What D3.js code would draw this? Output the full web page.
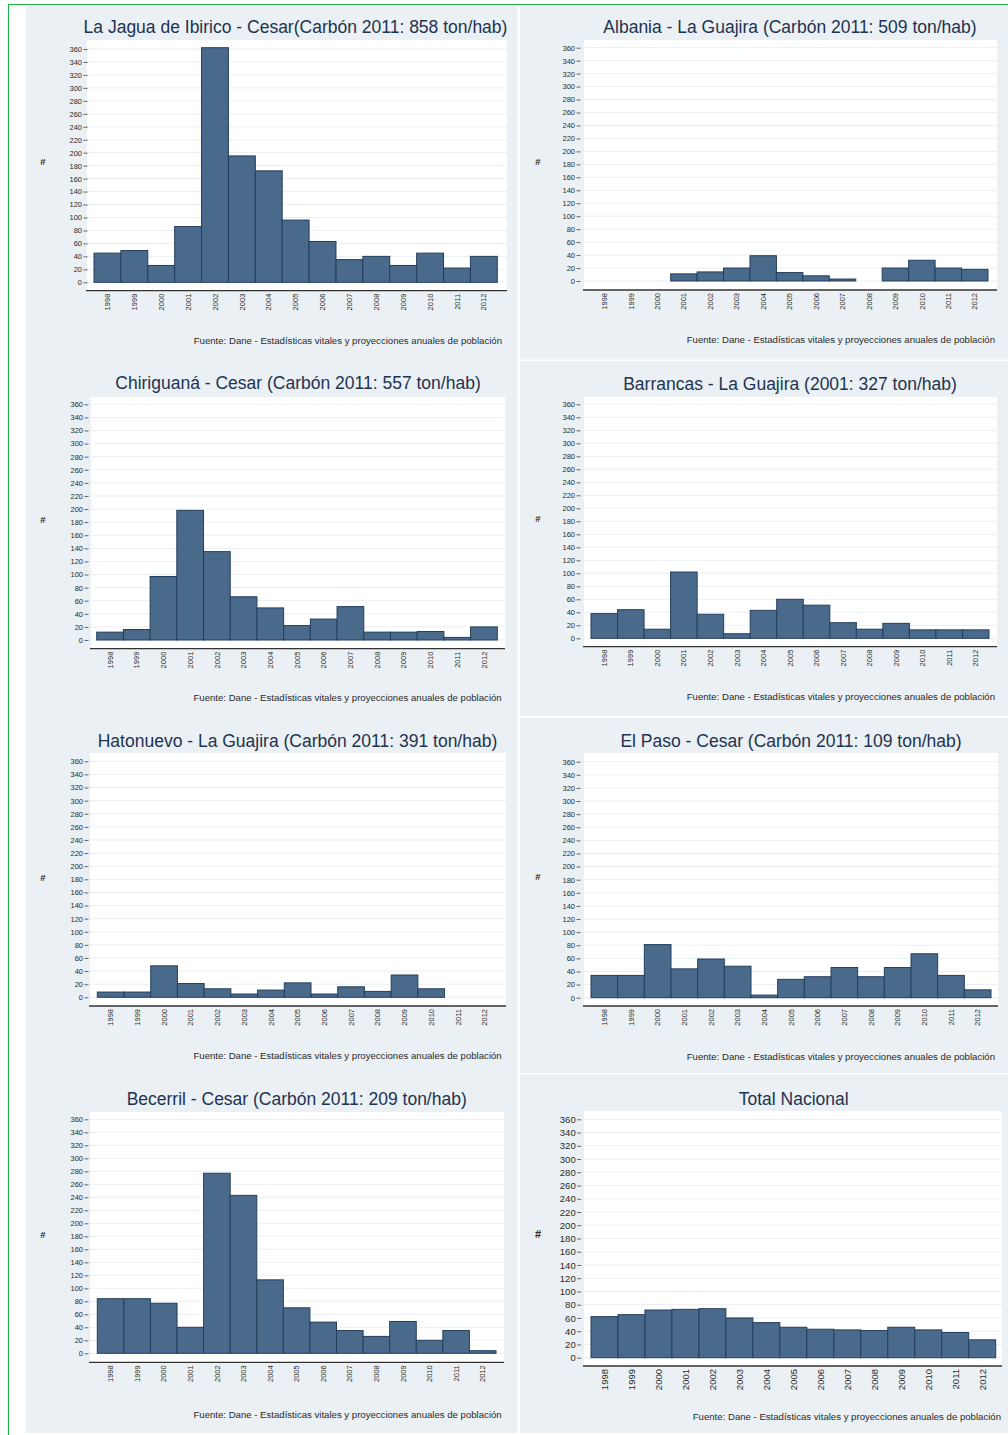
<!DOCTYPE html>
<html>
<head>
<meta charset="utf-8">
<script src="https://cdn.jsdelivr.net/npm/d3@7"></script>
<style>
  body { margin: 0; background: #fff; }
  svg { display: block; font-family: "Liberation Sans", Arial, sans-serif; }
</style>
</head>
<body>
<div id="chart"></div>
<script>
'use strict';

// --- data ---
const years = ["1998", "1999", "2000", "2001", "2002", "2003", "2004", "2005",
               "2006", "2007", "2008", "2009", "2010", "2011", "2012"];
const yTicks = [0, 20, 40, 60, 80, 100, 120, 140, 160, 180, 200, 220, 240, 260, 280, 300, 320, 340, 360];

const laJagua    = [45, 49, 26, 86, 362, 195, 172, 96, 63, 35, 40, 26, 45, 22, 40];
const albania    = [null, null, null, 11, 14, 20, 39, 13, 8, 3, null, 20, 32, 20, 18];
const chiriguana = [12, 16, 97, 198, 135, 66, 49, 22, 32, 51, 12, 12, 13, 4, 20];
const barrancas  = [38, 44, 14, 102, 37, 7, 43, 60, 51, 24, 14, 23, 13, 13, 13];
const hatonuevo  = [8, 8, 48, 21, 13, 5, 11, 22, 5, 16, 9, 34, 13, null, null];
const elPaso     = [34, 34, 81, 44, 59, 48, 4, 28, 32, 46, 32, 46, 67, 34, 12];
const becerril   = [84, 84, 77, 40, 277, 243, 113, 70, 48, 35, 26, 49, 20, 35, 4];
const nacional   = [62, 65, 72, 73, 74, 60, 53, 46, 43, 42, 41, 46, 42, 38, 27];

const titles = [
  "La Jagua de Ibirico - Cesar(Carbón 2011: 858 ton/hab)",
  "Albania - La Guajira (Carbón 2011: 509 ton/hab)",
  "Chiriguaná - Cesar (Carbón 2011: 557 ton/hab)",
  "Barrancas - La Guajira (2001: 327 ton/hab)",
  "Hatonuevo - La Guajira (Carbón 2011: 391 ton/hab)",
  "El Paso - Cesar (Carbón 2011: 109 ton/hab)",
  "Becerril - Cesar (Carbón 2011: 209 ton/hab)",
  "Total Nacional"
];
const series = [laJagua, albania, chiriguana, barrancas, hatonuevo, elPaso, becerril, nacional];
const source = "Fuente: Dane - Estadísticas vitales y proyecciones anuales de población";
const yLabel = "#";

// --- layout of each panel (pixels) ---
const layout = [
  {pl: 87,  pt: 40,   pr: 507,  ax: 290.7,  y0: 282.3,  y1: 49,     bl: 94,    br: 497.3, lr: 82,    tx: 295.5, ty: 33,   fx: 502,   fy: 343.5,  hx: 43,  hy: 165},
  {pl: 584, pt: 40,   pr: 997,  ax: 290,    y0: 281,    y1: 47.7,   bl: 591.3, br: 988,   lr: 575,   tx: 790,   ty: 33,   fx: 995,   fy: 343,    hx: 538, hy: 165},
  {pl: 91,  pt: 397,  pr: 505,  ax: 648.7,  y0: 640,    y1: 404.3,  bl: 96.7,  br: 497.3, lr: 83,    tx: 298,   ty: 389,  fx: 501.7, fy: 700.5,  hx: 43,  hy: 523},
  {pl: 584, pt: 396.7,pr: 997,  ax: 646.7,  y0: 638.3,  y1: 404.3,  bl: 591,   br: 989,   lr: 575,   tx: 790,   ty: 390,  fx: 995,   fy: 700,    hx: 538, hy: 522},
  {pl: 90,  pt: 753,  pr: 506,  ax: 1006,   y0: 997.3,  y1: 761.3,  bl: 97.3,  br: 498,   lr: 83,    tx: 297.5, ty: 747,  fx: 501.7, fy: 1059,   hx: 43,  hy: 881},
  {pl: 584, pt: 753,  pr: 998,  ax: 1006,   y0: 997.7,  y1: 761.7,  bl: 591,   br: 991,   lr: 575,   tx: 791,   ty: 747,  fx: 995,   fy: 1060,   hx: 538, hy: 880},
  {pl: 90,  pt: 1112, pr: 504,  ax: 1362.3, y0: 1353.3, y1: 1119.3, bl: 97.3,  br: 496,   lr: 83,    tx: 296.7, ty: 1105, fx: 501.7, fy: 1417.7, hx: 43,  hy: 1238},
  {pl: 584, pt: 1111, pr: 1002, ax: 1366,   y0: 1357.7, y1: 1119.3, bl: 591,   br: 995.7, lr: 575.7, tx: 793.7, ty: 1105, fx: 1001,  fy: 1420,   hx: 538, hy: 1238, big: true}
];

const color = {bg: "#eaf0f3", bar: "#4a6a8c", edge: "#243e5c", grid: "#e9eff2", title: "#1e3352", text: "#2b2b2b", frame: "#22b14c"};

const svg = d3.select("#chart").append("svg")
    .attr("width", 1008)
    .attr("height", 1435);

// outer green frame
svg.append("line").attr("x1", 8).attr("x2", 1008).attr("y1", 4.5).attr("y2", 4.5)
    .attr("stroke", color.frame).attr("stroke-width", 1.2);
svg.append("line").attr("x1", 8.5).attr("x2", 8.5).attr("y1", 4).attr("y2", 1435)
    .attr("stroke", color.frame).attr("stroke-width", 1.2);

// panel backgrounds
svg.append("rect").attr("x", 26).attr("y", 6).attr("width", 491.5).attr("height", 1427).attr("fill", color.bg);
[[6, 359.5], [361, 716], [717.5, 1073], [1074.5, 1433]].forEach(r => {
  svg.append("rect").attr("x", 520).attr("y", r[0]).attr("width", 488).attr("height", r[1] - r[0]).attr("fill", color.bg);
});

series.forEach((values, i) => drawPanel(values, titles[i], layout[i]));

function drawPanel(values, title, L) {
  const g = svg.append("g");
  const tickFont = L.big ? 9.5 : 7.5;
  const yearFont = L.big ? 9.5 : 7.5;

  const x = d3.scaleBand().domain(years).range([L.bl, L.br]).paddingInner(0).paddingOuter(0);
  const y = d3.scaleLinear().domain([0, 360]).range([L.y0, L.y1]);

  // white plot region
  g.append("rect").attr("x", L.pl).attr("y", L.pt)
      .attr("width", L.pr - L.pl).attr("height", L.ax - L.pt).attr("fill", "#fff");

  // horizontal grid
  g.selectAll("line.grid").data(yTicks).enter().append("line")
      .attr("class", "grid")
      .attr("x1", L.pl).attr("x2", L.pr)
      .attr("y1", d => y(d)).attr("y2", d => y(d))
      .attr("stroke", color.grid).attr("stroke-width", 1);

  // bars
  const rows = years.map((yr, k) => ({year: yr, v: values[k]})).filter(d => d.v != null);
  g.selectAll("rect.bar").data(rows).enter().append("rect")
      .attr("class", "bar")
      .attr("x", d => x(d.year))
      .attr("y", d => y(d.v))
      .attr("width", x.bandwidth())
      .attr("height", d => y(0) - y(d.v))
      .attr("fill", color.bar)
      .attr("stroke", color.edge)
      .attr("stroke-width", 1);

  // y axis
  const yAxis = d3.axisLeft(y).tickValues(yTicks).tickSize(4).tickPadding(1.5);
  const ya = g.append("g").attr("transform", `translate(${L.lr + 5.5},0)`).call(yAxis);
  ya.select(".domain").remove();
  ya.selectAll(".tick line").attr("stroke", "#444").attr("stroke-width", 0.8);
  ya.selectAll(".tick text").attr("fill", color.text)
      .style("font-size", tickFont + "px").style("font-family", "'Liberation Sans', Arial, sans-serif");

  // x axis line and rotated year labels
  g.append("line").attr("x1", L.pl - 1).attr("x2", L.pr)
      .attr("y1", L.ax).attr("y2", L.ax)
      .attr("stroke", "#333").attr("stroke-width", 1.3);
  g.selectAll("text.year").data(years).enter().append("text")
      .attr("class", "year")
      .attr("transform", d => `translate(${x(d) + x.bandwidth() / 2},${L.ax + 3}) rotate(-90)`)
      .attr("text-anchor", "end")
      .attr("dy", "0.35em")
      .attr("fill", color.text)
      .style("font-size", yearFont + "px")
      .text(d => d);

  // y label
  g.append("text").attr("x", L.hx).attr("y", L.hy)
      .attr("text-anchor", "middle")
      .attr("fill", color.text)
      .style("font-size", (L.big ? 11 : 9.5) + "px")
      .style("font-weight", "bold")
      .text(yLabel);

  // title
  g.append("text").attr("x", L.tx).attr("y", L.ty)
      .attr("text-anchor", "middle")
      .attr("fill", color.title)
      .style("font-size", "17.5px")
      .text(title);

  // source note
  g.append("text").attr("x", L.fx).attr("y", L.fy)
      .attr("text-anchor", "end")
      .attr("fill", color.text)
      .style("font-size", "9.6px")
      .text(source);
}
</script>
</body>
</html>
